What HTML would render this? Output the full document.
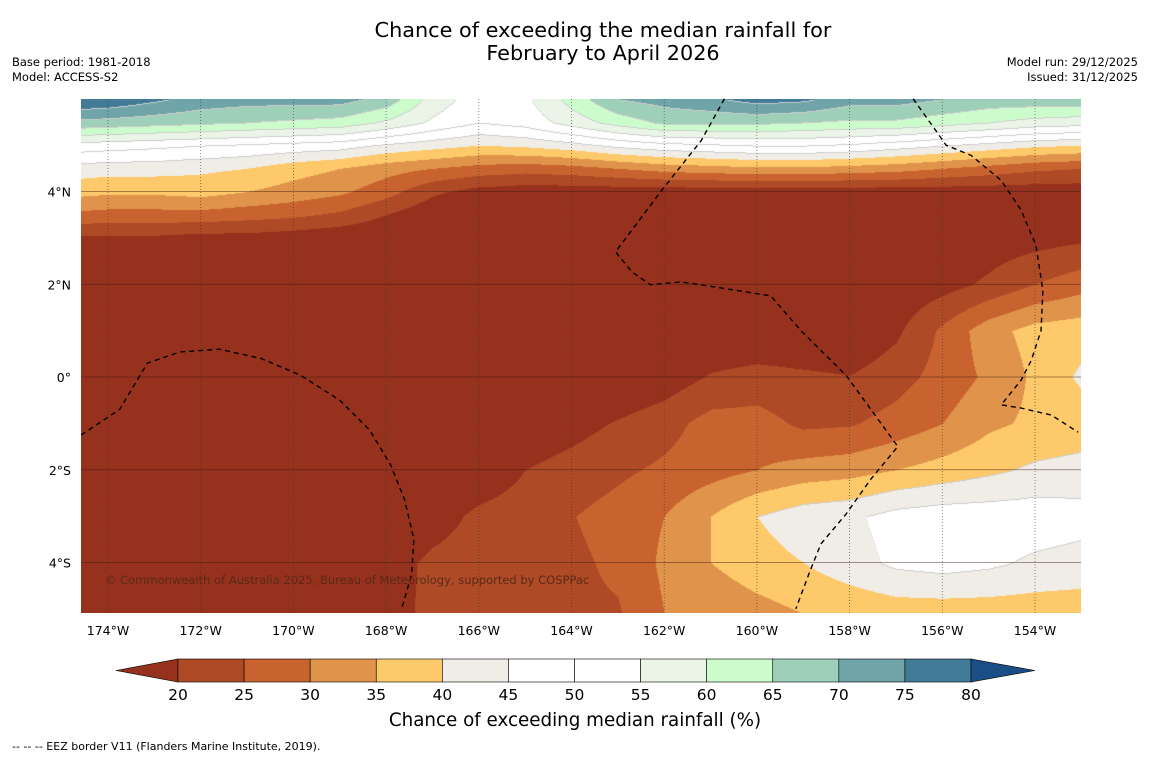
<!DOCTYPE html>
<html><head><meta charset="utf-8">
<style>
body{margin:0;background:#fff;width:1150px;height:758px;position:relative;font-family:"DejaVu Sans",sans-serif;overflow:hidden}
.t{position:absolute;white-space:nowrap;color:#000}
</style></head><body>
<div class="t" style="left:0;width:1206px;text-align:center;top:19px;font-size:20.8px;line-height:23px">Chance of exceeding the median rainfall for<br>February to April 2026</div>
<div class="t" style="left:12px;top:55px;font-size:11.5px;line-height:15px">Base period: 1981-2018<br>Model: ACCESS-S2</div>
<div class="t" style="right:12px;top:55px;font-size:11.5px;line-height:15px;text-align:right">Model run: 29/12/2025<br>Issued: 31/12/2025</div>
<canvas id="map" width="1000" height="514" style="position:absolute;left:81px;top:99px"></canvas>
<svg id="ov" width="1150" height="758" style="position:absolute;left:0;top:0"></svg>
<div class="t" style="left:12px;top:740px;font-size:11px">--  --  -- EEZ border V11 (Flanders Marine Institute, 2019).</div>
<script>
const levels=[20,25,30,35,40,45,50,55,60,65,70,75,80];
const binColors=["#96311e","#ae4a26","#c8632f","#e0934a","#fdc96a","#f0ece6","#ffffff","#ffffff","#eaf5e8","#ccfccc","#9ecfb8","#6fa4a8","#417b98","#1a4f86"];
const gridLons=[-175,-174,-173,-172,-171,-170,-169,-168,-167,-166,-165,-164,-163,-162,-161,-160,-159,-158,-157,-156,-155,-154,-153];
const gridLats=[6,5.5,5,4.5,4,3.5,3,2,1,0,-1,-2,-3,-4,-5.1];
const row6=[80,79,76,73,72,72,72,68,58,52,54,62,70,72,74,77,76,72,72,70,68,68,68];
const row55=[69,68,67,66,65,64,63,59,54,50,52,57,62,66,66,66,65,64,64,62,60,58,57];
const row5=[53,52,51,50,49,48,47,44,42,40,41,43,46,48,49,50,50,49,47,45,43,41,40];
const row45=[43,42,42,41,40,37,35,32,30,28,27,28,30,32,33,34,34,33,32,30,28,26,25];
const row4=[37,36,36,37,35,33,31,27,21,18,17,17,17,17,17,17,17,17,17,17,17,17,17];
const row35=[29,28,28,28,27,26,24,20,16,15,15,15,15,15,15,15,15,15,15,15,15,15,15];
const row3=[19,19,19,18,18,17,16,15,15,15,15,15,15,15,15,15,15,15,15,16,17,18,19];
const row2=[15,15,15,15,15,15,15,15,15,15,15,15,15,15,15,15,15,15,16,18,21,25,28];
const row1=[15,15,15,15,15,15,15,15,15,15,15,15,15,15,15,15,15,15,19,26,33,37,38];
const row0=[15,15,15,15,15,15,15,15,15,15,15,15,15,17,20.5,22,21,20.2,23,27,31,36,41];
const rowS1=[15,15,15,15,15,15,15,15,15,15,16,18,20.5,23,27,27,24,24.5,27,30,34,36,37];
const rowS2=[15,15,15,15,15,15,15,15,15,17,20,22,24,26,28,30,32,33,35,37,39,41,42];
const rowS3=[15,15,15,15,15,15,15,15,18,21,22,24.8,27,30,35,40,43,44,47,48,48,48,47];
const rowS4=[15,15,15,15,15,15,15,18,21,22,23,24,26,31,35,38,40,43,46,47,46,44,43];
const rowS5=[15,15,15,15,15,15,15,18.5,21,22,23,24,24.5,30,31,33,35,36,37,37,37,37,37];
const field=[row6,row55,row5,row45,row4,row35,row3,row2,row1,row0,rowS1,rowS2,rowS3,rowS4,rowS5];
const lonTicks=[-174,-172,-170,-168,-166,-164,-162,-160,-158,-156,-154];
const latTicks=[4,2,0,-2,-4];
const latLabels=["4°N","2°N","0°","2°S","4°S"];
const eezA=[[-174.58,-1.25],[-173.75,-0.7],[-173.15,0.3],[-172.45,0.54],[-171.6,0.6],[-170.7,0.4],[-169.85,0.04],[-169.0,-0.5],[-168.35,-1.15],[-167.9,-1.9],[-167.6,-2.65],[-167.4,-3.5],[-167.45,-4.25],[-167.65,-4.95]];
const eezB=[[-160.7,6],[-161.2,5.1],[-162.05,4.03],[-163.05,2.7],[-162.7,2.27],[-162.3,1.99],[-161.63,2.05],[-160.77,1.92],[-159.7,1.75],[-159.05,1.0],[-158.08,0.04],[-157.54,-0.7],[-156.96,-1.5],[-157.54,-2.2],[-158.08,-2.96],[-158.62,-3.6],[-158.88,-4.25],[-159.16,-5.0]];
const eezC=[[-156.63,6],[-156.13,5.3],[-155.92,5.0],[-155.38,4.78],[-154.73,4.24],[-154.3,3.6],[-153.98,2.84],[-153.83,1.87],[-153.87,1.0],[-154.08,0.36],[-154.3,-0.07],[-154.73,-0.6],[-154.3,-0.67],[-153.65,-0.82],[-153.07,-1.19]];
const cbTicks=[20,25,30,35,40,45,50,55,60,65,70,75,80];

const X=lon=>108+(lon+174)*46.35;
const Y=lat=>377-lat*46.375;
function interp(lon,lat){
  let i=0;while(i<gridLats.length-2&&lat<gridLats[i+1])i++;
  let j=0;while(j<gridLons.length-2&&lon>gridLons[j+1])j++;
  const ty=(gridLats[i]-lat)/(gridLats[i]-gridLats[i+1]);
  const tx=(lon-gridLons[j])/(gridLons[j+1]-gridLons[j]);
  const a=field[i][j],b=field[i][j+1],c=field[i+1][j],d=field[i+1][j+1];
  return (a*(1-tx)+b*tx)*(1-ty)+(c*(1-tx)+d*tx)*ty;
}
function bin(v){let k=0;while(k<levels.length&&v>=levels[k])k++;return k;}
const cv=document.getElementById('map'),ctx=cv.getContext('2d');
const W=1000,H=514,img=ctx.createImageData(W,H);
const bins=new Int8Array(W*H);
for(let y=0;y<H;y++)for(let x=0;x<W;x++){
  const lon=-174+(x+81-108)/46.35, lat=(377-(y+99))/46.375;
  bins[y*W+x]=bin(interp(lon,lat));
}
function hex(h){return [parseInt(h.slice(1,3),16),parseInt(h.slice(3,5),16),parseInt(h.slice(5,7),16)];}
const rgb=binColors.map(hex);
for(let y=0;y<H;y++)for(let x=0;x<W;x++){
  const b=bins[y*W+x];let c=rgb[b];
  if(b>=5&&y>0&&bins[(y-1)*W+x]!==b)c=[205,205,205];
  const o=(y*W+x)*4;img.data[o]=c[0];img.data[o+1]=c[1];img.data[o+2]=c[2];img.data[o+3]=255;
}
ctx.putImageData(img,0,0);

const NS='http://www.w3.org/2000/svg',svg=document.getElementById('ov');
const FF='DejaVu Sans';
function mk(tag,at,txt){const e=document.createElementNS(NS,tag);for(const k in at)e.setAttribute(k,at[k]);if(txt!==undefined)e.textContent=txt;svg.appendChild(e);return e;}
lonTicks.forEach(l=>{
  const e=mk('line',{x1:X(l),x2:X(l),y1:99,y2:613,stroke:'#333','stroke-width':0.8,'stroke-dasharray':'1,2',opacity:0.7});
  
  
  const t=mk('text',{x:X(l),y:635,'font-size':12.5,'text-anchor':'middle','font-family':FF},Math.abs(l)+'°W');
  
  
});
latTicks.forEach((l,i)=>{
  const e=mk('line',{x1:81,x2:1081,y1:Y(l),y2:Y(l),stroke:'#3a1a10','stroke-width':0.8,opacity:0.6});
  
  
  const t=mk('text',{x:71,y:Y(l)+5,'font-size':12.5,'text-anchor':'end','font-family':FF},latLabels[i]);
  
  
});
[eezA,eezB,eezC].forEach(p=>{
  const e=mk('polyline',{points:p.map(q=>X(q[0])+','+Y(q[1])).join(' '),fill:'none',stroke:'#000','stroke-width':1.4,'stroke-dasharray':'5,4'});
  
  
});
const cp=mk('text',{x:105,y:584,'font-size':11.5,fill:'#5a2a18','font-family':FF},'© Commonwealth of Australia 2025, Bureau of Meteorology, supported by COSPPac');


const cbX=v=>178+(v-20)*(971-178)/60;
const t1=mk('polygon',{points:`116,670.5 ${cbX(20)},659 ${cbX(20)},682`,fill:binColors[0],stroke:'#000','stroke-width':0.6});


for(let k=0;k<levels.length-1;k++){
  const r=mk('rect',{x:cbX(levels[k]),y:659,width:cbX(levels[k+1])-cbX(levels[k]),height:23,fill:binColors[k+1],stroke:'#000','stroke-width':0.6});
  
  
}
const t2=mk('polygon',{points:`1035,670.5 ${cbX(80)},659 ${cbX(80)},682`,fill:binColors[13],stroke:'#000','stroke-width':0.6});


cbTicks.forEach(v=>{
  const t=mk('text',{x:cbX(v),y:700,'font-size':15.5,'text-anchor':'middle','font-family':FF},v);
  
  
});
const ct=mk('text',{x:575,y:726,'font-size':18.3,'text-anchor':'middle','font-family':FF},'Chance of exceeding median rainfall (%)');


</script>
</body></html>
